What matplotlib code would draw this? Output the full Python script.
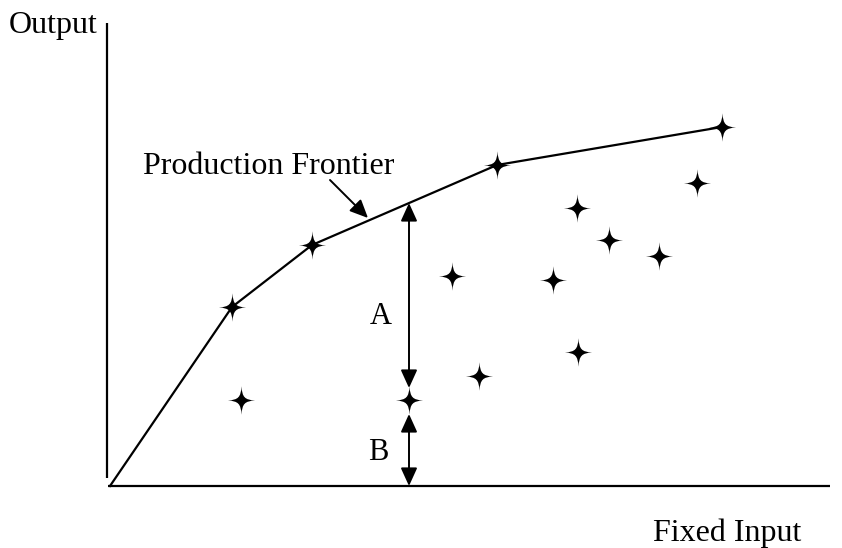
import matplotlib
matplotlib.use("Agg")
import matplotlib.pyplot as plt
from matplotlib.path import Path
import numpy as np

plt.rcParams['font.family'] = ['Liberation Serif', 'DejaVu Serif']

# Data (arbitrary units: origin at axes corner)
frontier_x = [0, 122, 202, 387, 612]
frontier_y = [0, 179, 241, 321, 359]
inner_x = [131, 299, 342, 369, 443, 467, 468, 499, 549, 587]
inner_y = [86, 86, 210, 110, 206, 278, 134, 246, 230, 303]
ref_x = 299
ref_frontier_y = 283
ref_point_y = 86
x_axis_label = "Fixed Input"
y_axis_label = "Output"
frontier_label = "Production Frontier"

# 4-pointed star marker with concave sides
tips = [(1.0, 0.0), (0.0, 1.05), (-1.0, 0.0), (0.0, -1.05)]
a, b = 0.24, 0.05
ctrl_pairs = [((a, b), (b, a)), ((-b, a), (-a, b)),
              ((-a, -b), (-b, -a)), ((b, -a), (a, -b))]
verts = [tips[0]]
codes = [Path.MOVETO]
for k in range(4):
    c1, c2 = ctrl_pairs[k]
    verts += [c1, c2, tips[(k + 1) % 4]]
    codes += [Path.CURVE4] * 3
verts.append(tips[0])
codes.append(Path.CLOSEPOLY)
star = Path(verts, codes)

fig = plt.figure(figsize=(8.42, 5.48), dpi=100)
ax = fig.add_axes([0, 0, 1, 1])
ax.set_xlim(-110, 732)
ax.set_ylim(-62, 486)
ax.axis('off')

# axes lines
ax.plot([-3, -3], [8, 463], color='black', lw=1.6, solid_capstyle='butt')
ax.plot([-2, 720], [0, 0], color='black', lw=1.6, solid_capstyle='butt')

# frontier
ax.plot(frontier_x, frontier_y, color='black', lw=1.6)
ax.plot(frontier_x[1:], frontier_y[1:], linestyle='none', marker=star,
        markersize=20.5, color='black', markeredgewidth=0)
ax.plot(inner_x, inner_y, linestyle='none', marker=star,
        markersize=20.5, color='black', markeredgewidth=0)

head = dict(arrowstyle='<|-|>,head_length=1.1,head_width=0.5', color='black',
            lw=1.4, shrinkA=0, shrinkB=0)
ax.annotate('', xy=(ref_x, ref_frontier_y), xytext=(ref_x, ref_point_y + 12),
            arrowprops=head)
ax.annotate('', xy=(ref_x, ref_point_y - 14), xytext=(ref_x, 0),
            arrowprops=head)

ax.text(ref_x - 28, 169, 'A', fontsize=22, ha='center', va='center')
ax.text(ref_x - 31, 33, 'B', fontsize=22, ha='center', va='center')

ax.annotate('', xy=(258, 268), xytext=(220, 306),
            arrowprops=dict(arrowstyle='-|>,head_length=1.1,head_width=0.5',
                            color='black', lw=1.4, shrinkA=0, shrinkB=0))
ax.text(159, 319, frontier_label, fontsize=23, ha='center', va='center')

ax.text(-101, 461, y_axis_label, fontsize=23, ha='left', va='center')
ax.text(617, -47, x_axis_label, fontsize=23, ha='center', va='center')

fig.savefig('out.png', dpi=100)
